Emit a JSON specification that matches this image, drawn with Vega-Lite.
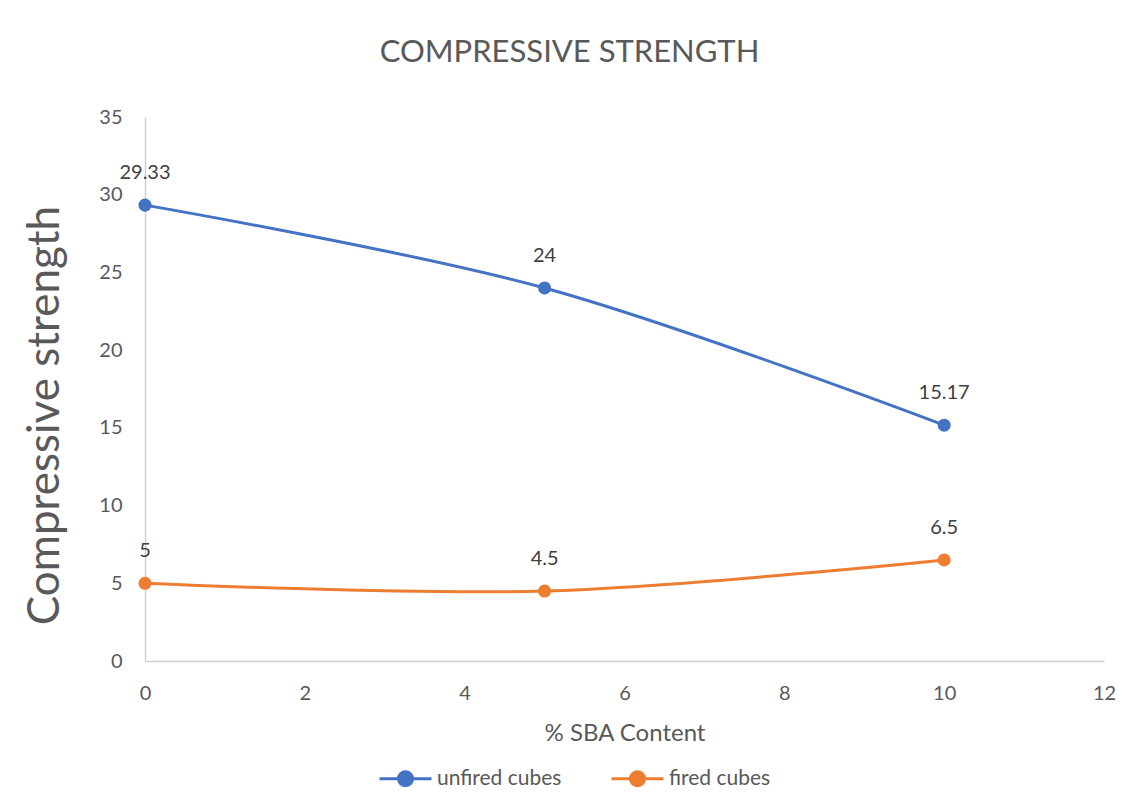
{
  "$schema": "https://vega.github.io/schema/vega-lite/v6.json",
  "autosize": "none",
  "width": 959,
  "height": 544,
  "padding": {"left": 145, "top": 117, "right": 28, "bottom": 135},
  "background": "white",
  "config": {
    "font": "Lato",
    "view": {"stroke": null},
    "axis": {"grid": false, "ticks": false, "labelFlush": false, "domainColor": "#d0d0d0", "domainWidth": 1.5, "labelColor": "#595959", "labelFontSize": 20, "titleColor": "#595959", "titleFontWeight": "normal"}
  },
  "title": {"text": "COMPRESSIVE STRENGTH", "fontSize": 31, "fontWeight": "normal", "color": "#595959", "dx": -55, "offset": 38, "anchor": "middle"},
  "data": {"values": [
    {"sba": 0, "strength": 29.33, "label": "29.33", "series": "unfired cubes"},
    {"sba": 5, "strength": 24, "label": "24", "series": "unfired cubes"},
    {"sba": 10, "strength": 15.17, "label": "15.17", "series": "unfired cubes"},
    {"sba": 0, "strength": 5, "label": "5", "series": "fired cubes"},
    {"sba": 5, "strength": 4.5, "label": "4.5", "series": "fired cubes"},
    {"sba": 10, "strength": 6.5, "label": "6.5", "series": "fired cubes"}
  ]},
  "encoding": {
    "x": {"field": "sba", "type": "quantitative", "scale": {"domain": [0, 12], "nice": false}, "axis": {"values": [0, 2, 4, 6, 8, 10, 12], "title": "% SBA Content", "titleFontSize": 24, "labelPadding": 22, "titlePadding": 18}},
    "y": {"field": "strength", "type": "quantitative", "scale": {"domain": [0, 35], "nice": false}, "axis": {"values": [0, 5, 10, 15, 20, 25, 30, 35], "title": "Compressive strength", "titleFontSize": 44, "labelPadding": 23, "titleX": -100, "titleY": 298, "titleAngle": -90, "titleAlign": "center", "titleBaseline": "middle"}},
    "color": {"field": "series", "type": "nominal", "scale": {"domain": ["unfired cubes", "fired cubes"], "range": ["#4472C4", "#ED7D31"]},
      "legend": {"title": null, "orient": "none", "direction": "horizontal", "legendX": 233, "legendY": 634, "symbolType": "M-1,0L1,0M-0.27,0A0.27,0.27 0 1,1 0.27,0A0.27,0.27 0 1,1 -0.27,0Z", "symbolSize": 2704, "symbolStrokeWidth": 3, "labelFontSize": 21, "labelColor": "#595959", "labelOffset": 4, "columnPadding": 43, "symbolOpacity": 1}}
  },
  "layer": [
    {"mark": {"type": "line", "interpolate": "catmull-rom", "strokeWidth": 3}},
    {"mark": {"type": "point", "filled": true, "size": 170, "opacity": 1}},
    {"mark": {"type": "text", "dy": -32, "fontSize": 20, "color": "#404040", "baseline": "middle"}, "encoding": {"text": {"field": "label"}, "color": {"value": "#404040"}}}
  ]
}
